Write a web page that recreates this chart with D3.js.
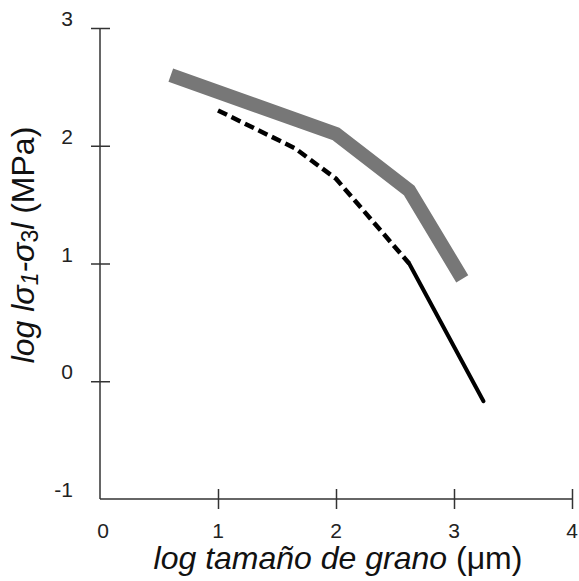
<!DOCTYPE html>
<html>
<head>
<meta charset="utf-8">
<script src="https://cdn.jsdelivr.net/npm/d3@7"></script>
<style>
  body { margin: 0; background: #fff; }
  svg { display: block; font-family: "Liberation Sans", Arial, sans-serif; }
  .tick-label { font-size: 21px; fill: #222; }
  .title { font-size: 32px; fill: #111; }
</style>
</head>
<body>
<svg id="chart" width="579" height="581"></svg>
<script>
// ── Data ──────────────────────────────────────────────────────────────────────
const xTicks = [0, 1, 2, 3, 4];
const yTicks = [-1, 0, 1, 2, 3];

// thick grey line
const greyX = [0.6, 2.0, 2.62, 3.07];
const greyY = [2.6, 2.1, 1.62, 0.87];

// dashed black segment
const dashX = [1.0, 1.65, 2.0, 2.62];
const dashY = [2.3, 1.98, 1.72, 1.0];

// solid black segment
const solidX = [2.62, 3.25];
const solidY = [1.0, -0.17];

// ── Chart ─────────────────────────────────────────────────────────────────────
const svg = d3.select("#chart");
const x = d3.scaleLinear().domain([0, 4]).range([100, 572]);
const y = d3.scaleLinear().domain([-1, 3]).range([499, 28]);

const pts = (xs, ys) => xs.map((v, i) => [v, ys[i]]);
const line = d3.line().x(d => x(d[0])).y(d => y(d[1]));

// axes
svg.append("g").attr("transform", `translate(0,${y(-1)})`)
  .call(d3.axisBottom(x).tickValues(xTicks.slice(1)).tickSize(10).tickFormat(""))
  .call(g => g.selectAll(".tick line").attr("y1", -10))
  .call(g => g.selectAll("line, path").attr("stroke", "#333").attr("stroke-width", 1.5))
  .call(g => g.select(".domain").attr("d", `M${x(0)},0H${x(4)}`));

svg.append("g").attr("transform", `translate(${x(0)},0)`)
  .call(d3.axisLeft(y).tickValues(yTicks.slice(1)).tickSize(9).tickFormat(""))
  .call(g => g.selectAll(".tick line").attr("x2", 10).attr("x1", -9))
  .call(g => g.selectAll("line, path").attr("stroke", "#333").attr("stroke-width", 1.5))
  .call(g => g.select(".domain").attr("d", `M0,${y(3)}V${y(-1)}`));

// tick labels
svg.selectAll(".xl").data(xTicks).join("text")
  .attr("class", "tick-label").attr("text-anchor", "middle")
  .attr("x", d => x(d) + (d === 0 ? 3 : 0)).attr("y", 538)
  .text(d => d);

svg.selectAll(".yl").data(yTicks).join("text")
  .attr("class", "tick-label").attr("text-anchor", "end")
  .attr("x", 73).attr("y", d => y(d) - 2)
  .text(d => d);

// lines
svg.append("path").datum(pts(greyX, greyY))
  .attr("fill", "none").attr("stroke", "#777").attr("stroke-width", 14)
  .attr("stroke-linejoin", "miter").attr("d", line);

svg.append("path").datum(pts(dashX, dashY))
  .attr("fill", "none").attr("stroke", "#000").attr("stroke-width", 4.5)
  .attr("stroke-dasharray", "10,5").attr("d", line);

svg.append("path").datum(pts(solidX, solidY))
  .attr("fill", "none").attr("stroke", "#000").attr("stroke-width", 4)
  .attr("stroke-linecap", "round").attr("d", line);

// axis titles
const xt = svg.append("text").attr("class", "title").attr("font-size", "33px")
  .attr("x", 338).attr("y", 569).attr("text-anchor", "middle");
xt.append("tspan").attr("font-style", "italic").text("log tamaño de grano ");
xt.append("tspan").text("(μm)");

const yt = svg.append("text").attr("class", "title")
  .attr("transform", "translate(34,245) rotate(-90)").attr("text-anchor", "middle");
yt.append("tspan").attr("font-style", "italic").text("log lσ");
yt.append("tspan").attr("font-style", "italic").attr("font-size", "23px").attr("dy", 4).text("1");
yt.append("tspan").attr("font-style", "italic").attr("dy", -4).text("-σ");
yt.append("tspan").attr("font-size", "23px").attr("dy", 4).text("3");
yt.append("tspan").attr("font-style", "italic").attr("dy", -4).text("l ");
yt.append("tspan").text("(MPa)");
</script>
</body>
</html>
